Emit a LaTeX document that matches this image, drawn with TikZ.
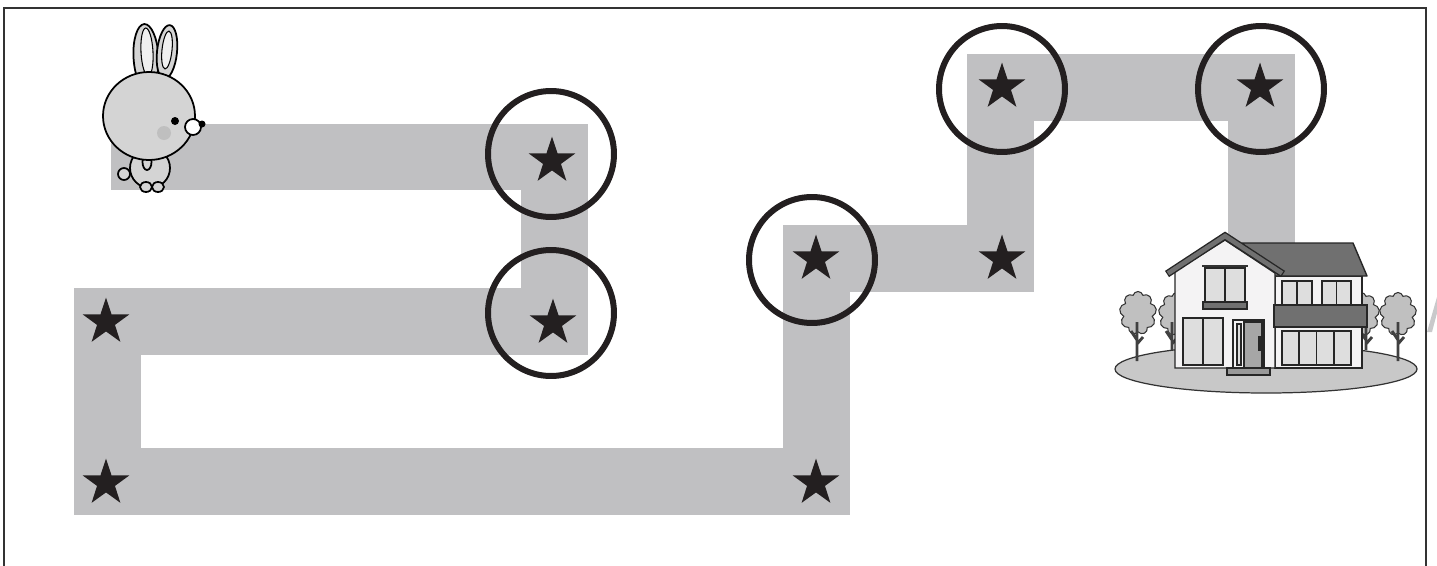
\documentclass[tikz,border=0pt]{standalone}
\usepackage{tikz}
\usetikzlibrary{shapes.geometric}
\usetikzlibrary{shapes.symbols}
\definecolor{trailgray}{RGB}{192,192,194}
\definecolor{inkblack}{RGB}{35,31,32}
\definecolor{furgray}{RGB}{212,212,212}
\definecolor{earlight}{RGB}{240,240,240}
\definecolor{roofgray}{RGB}{112,112,112}
\definecolor{panegray}{RGB}{222,222,222}
\definecolor{wallwhite}{RGB}{244,243,244}
\definecolor{leafgray}{RGB}{192,192,192}
\definecolor{lawngray}{RGB}{200,200,200}
\tikzset{trail/.style = {draw = trailgray, line width = 1.34cm, line join = miter}}
\tikzset{starmark/.style = {star, star points = 5, star point ratio = 2.6, fill = inkblack,
                            inner sep = 0, minimum size = 0.98cm}}
\tikzset{ring/.style = {circle, draw = inkblack, line width = 0.12cm, inner sep = 0, minimum size = 2.52cm}}
\tikzset{fur/.style = {fill = furgray, draw = black, line width = 1pt}}
\tikzset{treetop/.style = {cloud, cloud puffs = 9, draw = black!80, line width = 0.6pt, fill = leafgray,
                           inner sep = 0, minimum width = 0.74cm, minimum height = 0.86cm}}
\tikzset{trunk/.style = {draw = black!75, line width = 1.6pt}}
\tikzset{wall/.style = {fill = wallwhite, draw = black!85, line width = 0.8pt}}
\tikzset{pane/.style = {fill = panegray, draw = black!85, line width = 1.1pt}}
\tikzset{band/.style = {fill = roofgray, draw = black!85, line width = 0.8pt}}
\begin{document}
\begin{tikzpicture}[x = 0.02cm, y = -0.02cm]
  \useasboundingbox (0, 0) rectangle (1437, 565);
  \draw [black!80, line width = 1.3pt] (4, 580) -- (4, 8) -- (1426, 8) -- (1426, 580);
  \draw [trail] (111, 157) -- (554.5, 157) -- (554.5, 321.5) -- (107.5, 321.5) -- (107.5, 481.5)
        -- (816.5, 481.5) -- (816.5, 258.5) -- (1000, 258.5) -- (1000, 87.5) -- (1261.5, 87.5) -- (1261.5, 300);
  \fill [trailgray!85] (1427, 332) -- (1432, 332) -- (1437, 313) -- (1437, 297) -- cycle;

  \draw [fill = lawngray, draw = black!80, line width = 0.7pt] (1266, 369) ellipse [x radius = 151, y radius = 24];
  \node [treetop] (bush1) at (1138, 313) {};
  \node [treetop] (bush2) at (1177, 314) {};
  \node [treetop] (bush3) at (1361, 314) {};
  \node [treetop] (bush4) at (1398, 314) {};
  \foreach \tx/\tb in {1137/361, 1172/350, 1366/350, 1398/361}
    \draw [trunk] (\tx, \tb) -- (\tx, 322) (\tx, 340) -- ++(-6, -9) (\tx, 344) -- ++(6, -7);
  \draw [wall] (1275, 276) rectangle (1362, 368);
  \draw [band, line join = round] (1242, 243) -- (1353, 243) -- (1367, 276) -- (1275, 276) -- cycle;
  \draw [wall] (1175, 368) -- (1175, 271) -- (1225, 240) -- (1275, 273) -- (1275, 368) -- cycle;
  \draw [black!85, line width = 4.2pt] (1167, 274) -- (1225, 236) -- (1283, 274);
  \draw [roofgray, line width = 2.6pt] (1168, 273.3) -- (1225, 236) -- (1282, 273.3);
  \draw [black!80, line width = 1.2pt] (1202, 266) -- (1248, 266);
  \draw [pane, line width = 1.6pt] (1205, 268) rectangle (1245, 302);
  \draw [black!85, line width = 1.1pt] (1225, 268) -- (1225, 302);
  \draw [band] (1203, 302) rectangle (1247, 309);
  \draw [pane] (1282, 281) rectangle (1312, 305);
  \draw [pane] (1322, 281) rectangle (1351, 305);
  \draw [band] (1274, 305) rectangle (1367, 327);
  \draw [pane] (1183, 318) rectangle (1223, 365);
  \draw [pane] (1282, 331) rectangle (1351, 365);
  \foreach \mx in {1297, 1336.5}
    \draw [black!85, line width = 1.1pt] (\mx, 281) -- (\mx, 305);
  \draw [black!85, line width = 1.1pt] (1203, 318) -- (1203, 365);
  \foreach \mx in {1299.25, 1316.5, 1333.75}
    \draw [black!85, line width = 1.1pt] (\mx, 331) -- (\mx, 365);
  \draw [wall] (1233, 320) rectangle (1264, 368);
  \draw [fill = black!35, draw = black!85, line width = 0.8pt] (1244, 322) rectangle (1262, 368);
  \draw [pane, line width = 0.7pt] (1237, 324) rectangle (1241, 365);
  \fill [black!85] (1258, 336) rectangle (1260.5, 351);
  \draw [fill = black!40, draw = black!85, line width = 0.8pt] (1227, 368) rectangle (1270, 375);

  \node [starmark] (s1) at (552, 161) {};
  \node [starmark] (s2) at (553, 323) {};
  \node [starmark] (s3) at (106, 322) {};
  \node [starmark] (s4) at (106, 483) {};
  \node [starmark] (s5) at (816, 483) {};
  \node [starmark] (s6) at (816, 259) {};
  \node [starmark] (s7) at (1002, 259) {};
  \node [starmark] (s8) at (1002, 87) {};
  \node [starmark] (s9) at (1260, 87) {};
  \node [ring] (r1) at (551, 154) {};
  \node [ring] (r2) at (551, 313) {};
  \node [ring] (r3) at (812, 260) {};
  \node [ring] (r4) at (1002, 89) {};
  \node [ring] (r5) at (1261, 89) {};

  \draw [fur, rotate around = {3:(146, 57)}] (146, 57) ellipse [x radius = 12.5, y radius = 33];
  \draw [fill = earlight, draw = black, line width = 0.6pt, rotate around = {3:(147, 52)}]
        (147, 52) ellipse [x radius = 6, y radius = 24];
  \draw [fur, rotate around = {-6:(167, 52)}] (167, 52) ellipse [x radius = 10, y radius = 27];
  \draw [fill = earlight, draw = black, line width = 0.6pt, rotate around = {-6:(167, 50)}]
        (167, 50) ellipse [x radius = 5, y radius = 19];
  \draw [fur] (124, 174) circle [radius = 6];
  \draw [fur] (150, 168) ellipse [x radius = 20, y radius = 20];
  \draw [fur] (146, 187) ellipse [x radius = 6, y radius = 5];
  \draw [fur] (158, 187) ellipse [x radius = 6, y radius = 5];
  \draw [fur] (147, 162) ellipse [x radius = 4.5, y radius = 8];
  \draw [fur] (149, 116) ellipse [x radius = 46, y radius = 44];
  \fill [black!30, opacity = 0.6] (164, 133) circle [radius = 7];
  \fill [black] (175, 121) circle [radius = 4];
  \draw [fill = white, draw = black, line width = 1pt] (193, 127) circle [radius = 8];
  \fill [black] (202, 124) circle [radius = 3.5];
\end{tikzpicture}
\end{document}
